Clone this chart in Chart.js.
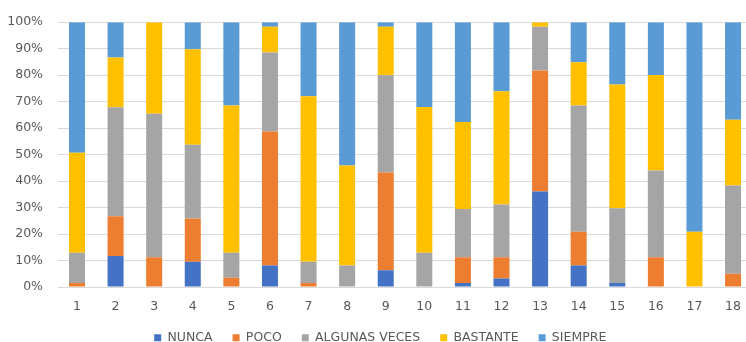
<!DOCTYPE html>
<html>
<head>
<meta charset="utf-8">
<script src="https://cdn.jsdelivr.net/npm/chart.js@4.4.1/dist/chart.umd.min.js"></script>
<style>
  html, body { margin: 0; padding: 0; background: #fff; overflow: hidden; }
  #wrap { width: 753px; height: 342px; }
</style>
</head>
<body>
<div id="wrap"><canvas id="c" width="753" height="342"></canvas></div>
<script>
// Question numbers along the x axis
const categories = ['1','2','3','4','5','6','7','8','9','10','11','12','13','14','15','16','17','18'];

// Share of answers per option (percent of each question)
const nunca    = [0, 11.7, 0, 9.5, 0, 8.1, 0, 0, 6.3, 0, 1.5, 3.2, 36.1, 8.1, 1.5, 0, 0, 0];
const poco     = [1.5, 15.0, 11.2, 16.4, 3.5, 50.6, 1.5, 0, 36.9, 0, 9.7, 8.0, 45.7, 12.8, 0, 11.2, 0, 5.0];
const algunas  = [11.4, 41.2, 54.2, 27.8, 9.4, 29.9, 8.0, 8.1, 36.8, 12.9, 18.3, 20.0, 16.5, 47.6, 28.2, 32.8, 0, 33.3];
const bastante = [37.8, 18.8, 34.6, 36.1, 55.6, 9.7, 62.5, 37.8, 18.3, 55.1, 32.8, 42.7, 1.7, 16.4, 46.8, 36.1, 20.9, 24.9];
const siempre  = [49.3, 13.3, 0, 10.2, 31.5, 1.7, 28.0, 54.1, 1.7, 32.0, 37.7, 26.1, 0, 15.1, 23.5, 19.9, 79.1, 36.8];

const seriesNames = ['NUNCA', 'POCO', 'ALGUNAS VECES', 'BASTANTE', 'SIEMPRE'];
const seriesColors = ['#4472C4', '#ED7D31', '#A5A5A5', '#FFC000', '#5B9BD5'];
const seriesValues = [nunca, poco, algunas, bastante, siempre];

const FONT = { family: '"DejaVu Sans", "Liberation Sans", sans-serif', size: 12.5 };
const TEXT = '#595959';

// Trim the legend box so its row sits lower, close to the bottom edge
const legendTrim = {
  id: 'legendTrim',
  beforeInit(chart) {
    const legend = chart.legend;
    if (!legend) return;
    const fit = legend.fit;
    legend.fit = function () {
      fit.call(this);
      this.height = Math.max(0, this.height - 12);
    };
  }
};

new Chart(document.getElementById('c'), {
  type: 'bar',
  data: {
    labels: categories,
    datasets: seriesNames.map((name, i) => ({
      label: name,
      data: seriesValues[i],
      backgroundColor: seriesColors[i],
      borderWidth: 0,
      categoryPercentage: 1,
      barPercentage: 0.415
    }))
  },
  plugins: [legendTrim],
  options: {
    responsive: false,
    animation: false,
    layout: { padding: { left: 7.5, right: 0, top: 10, bottom: 0 } },
    plugins: {
      legend: {
        position: 'bottom',
        labels: {
          boxWidth: 7,
          boxHeight: 7,
          padding: 20,
          color: TEXT,
          font: FONT
        }
      },
      tooltip: { enabled: false }
    },
    scales: {
      x: {
        stacked: true,
        grid: { display: false, drawTicks: false },
        border: { display: false },
        ticks: { color: TEXT, font: FONT, padding: 12 },
        afterFit: scale => { scale.height = 24.5; }
      },
      y: {
        stacked: true,
        min: 0,
        max: 100,
        grid: { color: '#D9D9D9', lineWidth: 1, drawTicks: false },
        border: { display: false },
        ticks: {
          stepSize: 10,
          color: TEXT,
          font: FONT,
          padding: 14.7,
          callback: v => v + '%'
        },
        afterFit: scale => { scale.width = 50.2; }
      }
    }
  }
});
</script>
</body>
</html>
